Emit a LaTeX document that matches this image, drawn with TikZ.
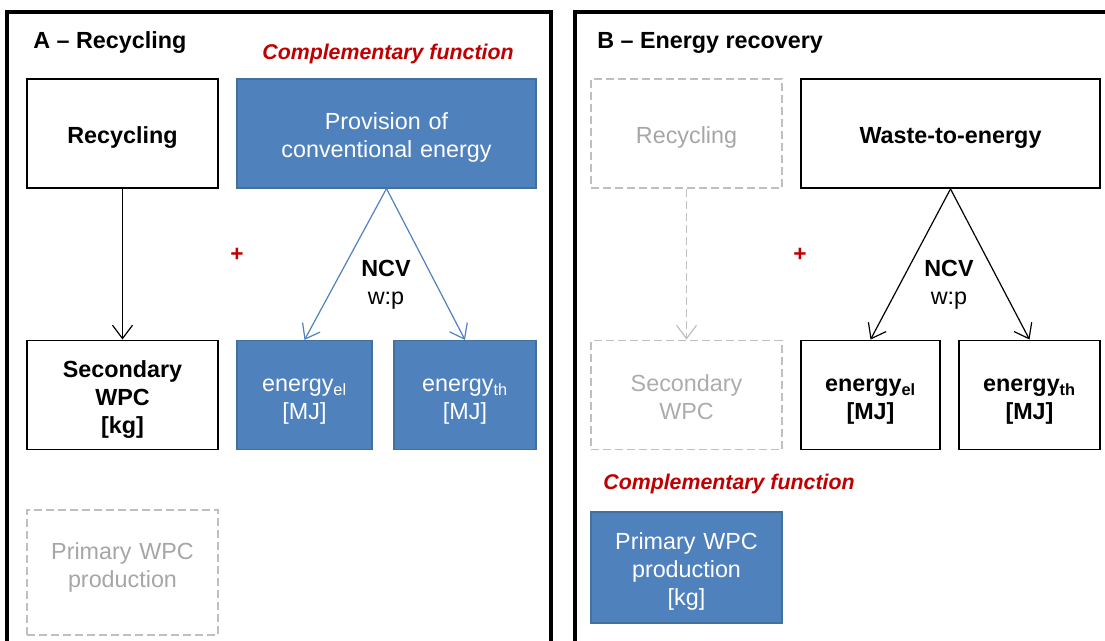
\documentclass[tikz,border=0pt]{standalone}
\usepackage{fontspec}
\setmainfont{Liberation Sans}
\usetikzlibrary{arrows.meta}
\definecolor{boxblue}{HTML}{4F81BD}
\definecolor{boxedge}{HTML}{41719C}
\definecolor{funcred}{HTML}{C00000}
\definecolor{ghostline}{HTML}{BFBFBF}
\definecolor{ghosttext}{HTML}{A6A6A6}
\newcommand\linestrut{\rule[-0.212em]{0pt}{1.117em}}
\newcommand\boxstrut{\rule[-0.212em]{0pt}{1.30em}}
\tikzset{
  txt/.style={font=\fontsize{17.5}{21}\selectfont, align=center, inner sep=0pt,
    execute at begin node=\linestrut, execute at end node=\linestrut},
  boxtxt/.style={txt, execute at begin node=\boxstrut, minimum height=81.75pt},
  boxw/.style={minimum width=#1, text width=#1},
  plainbox/.style={boxtxt, draw=black, line width=1.4pt},
  bluebox/.style={boxtxt, fill=boxblue, draw=boxedge, line width=0.9pt, text=white},
  ghostbox/.style={boxtxt, draw=ghostline, line width=1.4pt, dash pattern=on 6pt off 3pt, text=ghosttext},
  panel/.style={draw=black, line width=2.6pt},
  functitle/.style={txt, font=\fontsize{16}{19}\selectfont\bfseries\itshape, text=funcred},
  plus/.style={font=\fontsize{17}{19}\selectfont\bfseries, text=funcred, inner sep=0pt},
  flow/.style={-{Straight Barb[length=10pt,width=15pt]}, line width=0.9pt}
}
\begin{document}
\begin{tikzpicture}[x=0.75pt,y=-0.75pt]
\useasboundingbox (0,0) rectangle (1105,640);
\clip (0,0) rectangle (1105,640);
% ------ A : recycling -----------------------------
\draw [panel] (7,12) rectangle (551,670);
\node [txt, font=\fontsize{17.5}{21}\selectfont\bfseries, anchor=west] (titleA) at (33,40) {A -- Recycling};
\node [functitle] (funcA) at (388,52) {Complementary function};
\node [plainbox, boxw=143.25pt, font=\fontsize{17.5}{21}\selectfont\bfseries] (recA) at (122.5,133.5) {Recycling};
\node [bluebox, boxw=224.25pt] (provA) at (386.5,133.5) {Provision of\\conventional energy};
\node [plainbox, boxw=143.25pt, font=\fontsize{17.5}{21}\selectfont\bfseries] (secA) at (122.5,395) {Secondary\\WPC\\{[kg]}};
\node [bluebox, boxw=101.25pt] (elA) at (304.5,395) {energy\textsubscript{el}\\{[MJ]}};
\node [bluebox, boxw=106.5pt] (thA) at (465,395) {energy\textsubscript{th}\\{[MJ]}};
\node [ghostbox, boxw=143.25pt, minimum height=93.75pt,
  execute at end node={\rule[-18pt]{0pt}{0pt}}] (primA) at (122.5,572.5) {Primary WPC\\production};
\node [plus] (plusA) at (237,255) {+};
\node [txt] (ncvA) at (386,285) {\textbf{NCV}\\w:p};
\draw [flow] (recA) -- (secA);
\draw [flow, draw=boxblue] (provA.south) -- (elA.north);
\draw [flow, draw=boxblue] (provA.south) -- (thA.north);
% ------ B : energy recovery -----------------------------
\draw [panel] (575,12) rectangle (1130,670);
\node [txt, font=\fontsize{17.5}{21}\selectfont\bfseries, anchor=west] (titleB) at (597,40) {B -- Energy recovery};
\node [ghostbox, boxw=143.25pt] (recB) at (686.5,133.5) {Recycling};
\node [plainbox, boxw=224.25pt, font=\fontsize{17.5}{21}\selectfont\bfseries] (wteB) at (950.5,133.5) {Waste-to-energy};
\node [ghostbox, boxw=143.25pt, text=ghostline!90!black] (secB) at (686.5,395) {Secondary\\WPC};
\node [plainbox, boxw=104.25pt, font=\fontsize{17.5}{21}\selectfont\bfseries] (elB) at (870.5,395) {energy\textsubscript{el}\\{[MJ]}};
\node [plainbox, boxw=105.75pt, font=\fontsize{17.5}{21}\selectfont\bfseries] (thB) at (1029.5,395) {energy\textsubscript{th}\\{[MJ]}};
\node [functitle] (funcB) at (729,482) {Complementary function};
\node [bluebox, boxw=143.25pt, minimum height=83.25pt] (primB) at (686.5,567.5) {Primary WPC\\production\\{[kg]}};
\node [plus] (plusB) at (800,255) {+};
\node [txt] (ncvB) at (949,285) {\textbf{NCV}\\w:p};
\draw [flow, draw=ghostline, dash pattern=on 6pt off 3pt] (recB) -- (secB);
\draw [flow] (wteB.south) -- (elB.north);
\draw [flow] (wteB.south) -- (thB.north);
\end{tikzpicture}
\end{document}
